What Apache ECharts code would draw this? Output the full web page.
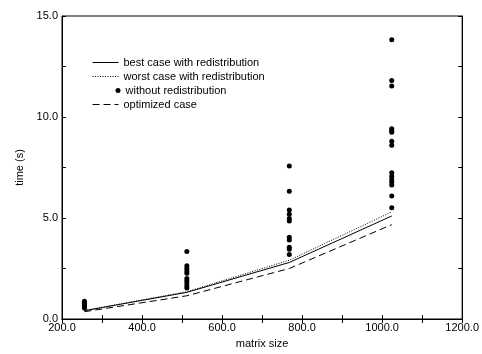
<!DOCTYPE html>
<html><head><meta charset="utf-8">
<script src="https://cdn.jsdelivr.net/npm/echarts@6/dist/echarts.min.js"></script>
<style>html,body{margin:0;padding:0;background:#fff}#c{width:482px;height:354px}</style>
</head><body><div id="c"></div>
<script>
const sizes = [256, 512, 768, 1024];
const bestCase = [0.41, 1.32, 2.80, 5.10];
const worstCase = [0.42, 1.35, 2.91, 5.30];
const optimizedCase = [0.36, 1.15, 2.50, 4.67];
const noRedist256 = [0.88, 0.82, 0.76, 0.70, 0.65, 0.60, 0.55];
const noRedist512 = [3.34, 2.63, 2.50, 2.38, 2.27, 2.01, 1.89, 1.78, 1.64, 1.53];
const noRedist768 = [7.57, 6.32, 5.39, 5.18, 4.98, 4.85, 4.05, 3.91, 3.55, 3.45, 3.19];
const noRedist1024 = [13.82, 11.81, 11.53, 9.42, 9.33, 9.24, 8.80, 8.60, 7.24, 7.07, 6.91, 6.78, 6.63, 6.09, 5.51];
const names = ['best case with redistribution','worst case with redistribution','without redistribution','optimized case'];

const pairs = a => sizes.map((s,i)=>[s,a[i]]);
const scatterData = [].concat(
  noRedist256.map(v=>[sizes[0],v]),
  noRedist512.map(v=>[sizes[1],v]),
  noRedist768.map(v=>[sizes[2],v]),
  noRedist1024.map(v=>[sizes[3],v]));

const font = 'Liberation Sans, Arial, sans-serif';
const txt = {fontFamily: font, fontSize: 11, color: '#000'};
const tick = {show:true, inside:true, length:4, lineStyle:{color:'#000', width:1}};
const legBase = {orient:'vertical', itemHeight:8, itemGap:0, textStyle:txt, selectedMode:false, padding:0};
const lineLeg = (name, top) => Object.assign({}, legBase, {left:92, top:top, itemWidth:26,
  itemStyle:{opacity:0}, lineStyle:{width:1, type:'inherit'}, data:[{name:name, icon:'inherit'}]});

const chart = echarts.init(document.getElementById('c'), null, {renderer:'canvas'});
chart.setOption({
  animation:false,
  backgroundColor:'#fff',
  grid:{left:62, right:19, top:16, bottom:34, show:true, borderColor:'#000', borderWidth:1},
  legend:[
    lineLeg(names[0], 57),
    lineLeg(names[1], 71),
    Object.assign({}, legBase, {left:115.5, top:85, itemWidth:5, itemHeight:5, data:[{name:names[2], icon:'circle'}]}),
    lineLeg(names[3], 99)
  ],
  xAxis:[{
    type:'value', min:200, max:1200, interval:100,
    name:'matrix size', nameLocation:'middle', nameGap:19, nameTextStyle:txt,
    axisLine:{show:true, lineStyle:{color:'#000'}}, axisTick:tick,
    axisLabel:Object.assign({}, txt, {margin:3, formatter:v => v%200===0 ? v.toFixed(1) : ''}),
    splitLine:{show:false}
  },{
    type:'value', position:'top', min:200, max:1200, interval:100,
    axisLine:{show:true, lineStyle:{color:'#000'}}, axisTick:tick, axisLabel:{show:false}, splitLine:{show:false}
  }],
  yAxis:[{
    type:'value', min:0, max:15, interval:2.5,
    name:'time (s)', nameLocation:'middle', nameGap:36, nameTextStyle:txt,
    axisLine:{show:true, lineStyle:{color:'#000'}}, axisTick:tick,
    axisLabel:Object.assign({}, txt, {margin:4, formatter:v => v%5===0 ? v.toFixed(1) : ''}),
    splitLine:{show:false}
  },{
    type:'value', position:'right', min:0, max:15, interval:2.5,
    axisLine:{show:true, lineStyle:{color:'#000'}}, axisTick:tick, axisLabel:{show:false}, splitLine:{show:false}
  }],
  series:[
    {name:names[0], type:'line', data:pairs(bestCase), symbol:'none', color:'#000', lineStyle:{color:'#000', width:1, type:'solid'}},
    {name:names[1], type:'line', data:pairs(worstCase), symbol:'none', color:'#000', lineStyle:{color:'#000', width:1, type:[1,1.5]}},
    {name:names[2], type:'scatter', data:scatterData, symbol:'circle', symbolSize:5, itemStyle:{color:'#000', opacity:1}},
    {name:names[3], type:'line', data:pairs(optimizedCase), symbol:'none', color:'#000', lineStyle:{color:'#000', width:1, type:[7,4]}}
  ]
});
</script></body></html>
